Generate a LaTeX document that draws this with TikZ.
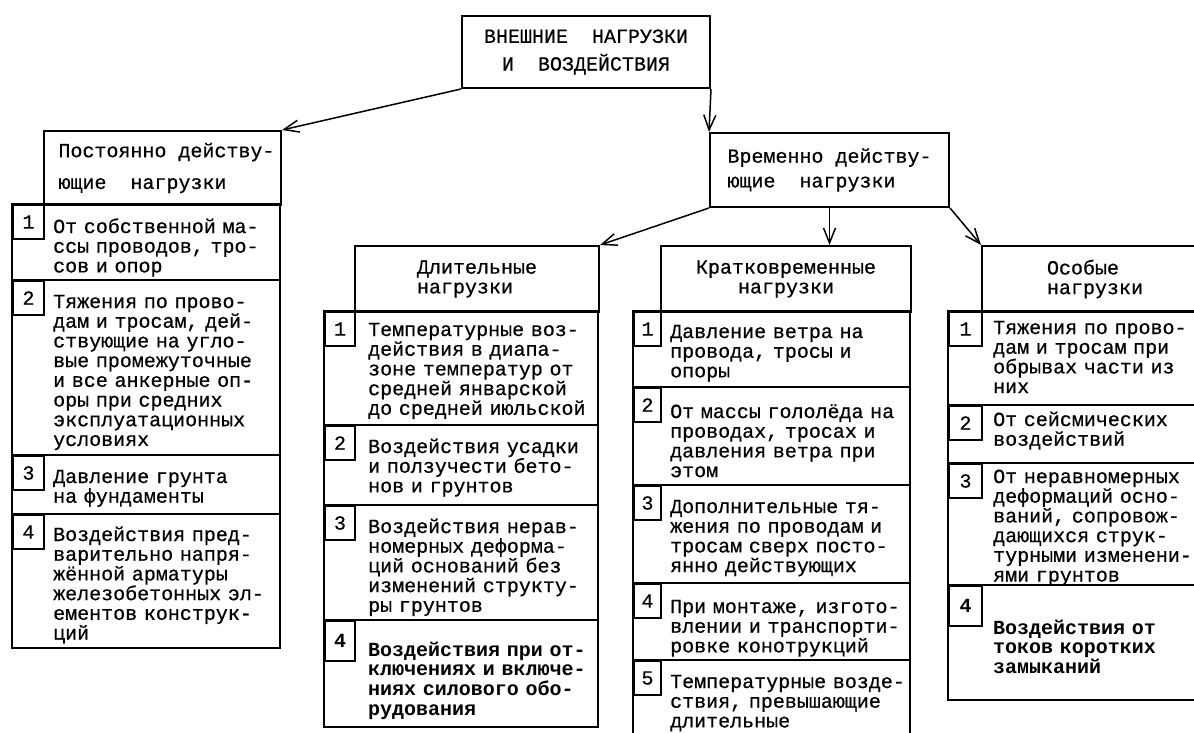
\documentclass[tikz,border=0pt]{standalone}
\usepackage{fontspec}
\setmonofont[UprightFeatures={FakeBold=0.6}]{Liberation Mono}
\usetikzlibrary{arrows.meta}

\tikzset{
  head/.style={draw, line width=2pt, anchor=north west, inner sep=0pt},
  frame/.style={line width=2pt},
  num/.style={draw, line width=2pt, anchor=north west, inner sep=0pt, minimum height=34},
  txt/.style={anchor=base west, inner sep=0pt, text width=300pt, align=left},
  arr/.style={line width=1.5pt, -{Straight Barb[length=15pt,width=12pt]}}
}

\begin{document}
\begin{tikzpicture}[x=1pt, y=-1pt, font=\ttfamily\fontsize{20}{19.7}\selectfont]
\useasboundingbox (0,0) rectangle (1194,733);

% верхние блоки
\node[head, minimum width=248, minimum height=72, align=center] (vnesh) at (461,15) {ВНЕШНИЕ\ \ НАГРУЗКИ\\[8pt]И\ \ ВОЗДЕЙСТВИЯ};
\node[head, minimum width=239, minimum height=74, align=left] (vrem) at (709,132) {Временно действу-\\[5pt]ющие\ \ нагрузки};

% постоянно действующие
\node[head, minimum width=237, minimum height=74, align=left] (post) at (43,130) {\hspace*{8pt}Постоянно действу-\\[12pt]\hspace*{8pt}ющие\ \ нагрузки};
\draw[frame] (12,204) rectangle (280,648);
\draw[frame] (12,280) -- (280,280) (12,455) -- (280,455) (12,514) -- (280,514);
\node[num, minimum width=31] (post1n) at (12,204) {1};
\node[num, minimum width=31] (post2n) at (12,280) {2};
\node[num, minimum width=31] (post3n) at (12,455) {3};
\node[num, minimum width=31] (post4n) at (12,514) {4};
\node[txt] (post1) at (53,233) {От собственной ма-\\ссы проводов, тро-\\сов и опор};
\node[txt] (post2) at (53,308) {Тяжения по прово-\\дам и тросам, дей-\\ствующие на угло-\\вые промежуточные\\и все анкерные оп-\\оры при средних\\эксплуатационных\\условиях};
\node[txt] (post3) at (53,483) {Давление грунта\\на фундаменты};
\node[txt] (post4) at (53,541) {Воздействия пред-\\варительно напря-\\жённой арматуры\\железобетонных эл-\\ементов конструк-\\ций};

% длительные
\node[head, minimum width=244, minimum height=66, align=left] (dlit) at (354,245) {Длительные\\нагрузки};
\draw[frame] (324,311) rectangle (598,727);
\draw[frame] (324,425) -- (598,425) (324,505) -- (598,505) (324,620) -- (598,620);
\node[num, minimum width=30] (dlit1n) at (324,311) {1};
\node[num, minimum width=30] (dlit2n) at (324,425) {2};
\node[num, minimum width=30] (dlit3n) at (324,505) {3};
\node[num, minimum width=30, minimum height=40] (dlit4n) at (324,620) {\bfseries 4};
\node[txt] (dlit1) at (368,336) {Температурные воз-\\действия в диапа-\\зоне температур от\\средней январской\\до средней июльской};
\node[txt] (dlit2) at (368,453) {Воздействия усадки\\и ползучести бето-\\нов и грунтов};
\node[txt] (dlit3) at (368,533) {Воздействия нерав-\\номерных деформа-\\ций оснований без\\изменений структу-\\ры грунтов};
\node[txt] (dlit4) at (368,656) {\bfseries Воздействия при от-\\ключениях и включе-\\ниях силового обо-\\рудования};

% кратковременные
\node[head, minimum width=250, minimum height=66, align=center] (krat) at (660,245) {Кратковременные\\нагрузки};
\draw[frame] (633,311) rectangle (910,740);
\draw[frame] (633,387) -- (910,387) (633,485) -- (910,485) (633,583) -- (910,583) (633,660) -- (910,660);
\node[num, minimum width=27] (krat1n) at (633,311) {1};
\node[num, minimum width=27] (krat2n) at (633,387) {2};
\node[num, minimum width=27] (krat3n) at (633,485) {3};
\node[num, minimum width=27] (krat4n) at (633,583) {4};
\node[num, minimum width=27] (krat5n) at (633,660) {5};
\node[txt] (krat1) at (670,338) {Давление ветра на\\провода, тросы и\\опоры};
\node[txt] (krat2) at (670,418) {От массы гололёда на\\проводах, тросах и\\давления ветра при\\этом};
\node[txt] (krat3) at (670,513) {Дополнительные тя-\\жения по проводам и\\тросам сверх посто-\\янно действующих};
\node[txt] (krat4) at (670,613) {При монтаже, изгото-\\влении и транспорти-\\ровке конотрукций};
\node[txt] (krat5) at (670,688) {Температурные возде-\\ствия, превышающие\\длительные};

% особые
\node[head, minimum width=226, minimum height=66, align=left] (osob) at (981,245) {Особые\\нагрузки};
\draw[frame] (948,311) rectangle (1207,700);
\draw[frame] (948,405) -- (1207,405) (948,463) -- (1207,463) (948,585) -- (1207,585);
\node[num, minimum width=33] (osob1n) at (948,311) {1};
\node[num, minimum width=33] (osob2n) at (948,405) {2};
\node[num, minimum width=33] (osob3n) at (948,463) {3};
\node[num, minimum width=33, minimum height=40] (osob4n) at (948,585) {\bfseries 4};
\node[txt] (osob1) at (993,334) {Тяжения по прово-\\дам и тросам при\\обрывах части из\\них};
\node[txt] (osob2) at (993,426) {От сейсмических\\воздействий};
\node[txt] (osob3) at (993,483) {От неравномерных\\деформаций осно-\\ваний, сопровож-\\дающихся струк-\\турными изменени-\\ями грунтов};
\node[txt] (osob4) at (993,634) {\bfseries Воздействия от\\токов коротких\\замыканий};

% связи
\draw[arr] (vnesh.south west) -- (post.north east);
\draw[arr] (vnesh.south east) -- (vrem.north west);
\draw[arr] (vrem.south west) -- (dlit.north east);
\draw[arr] (vrem.south) -- (vrem.south |- krat.north);
\draw[arr] (vrem.south east) -- (osob.north west);
\end{tikzpicture}
\end{document}
